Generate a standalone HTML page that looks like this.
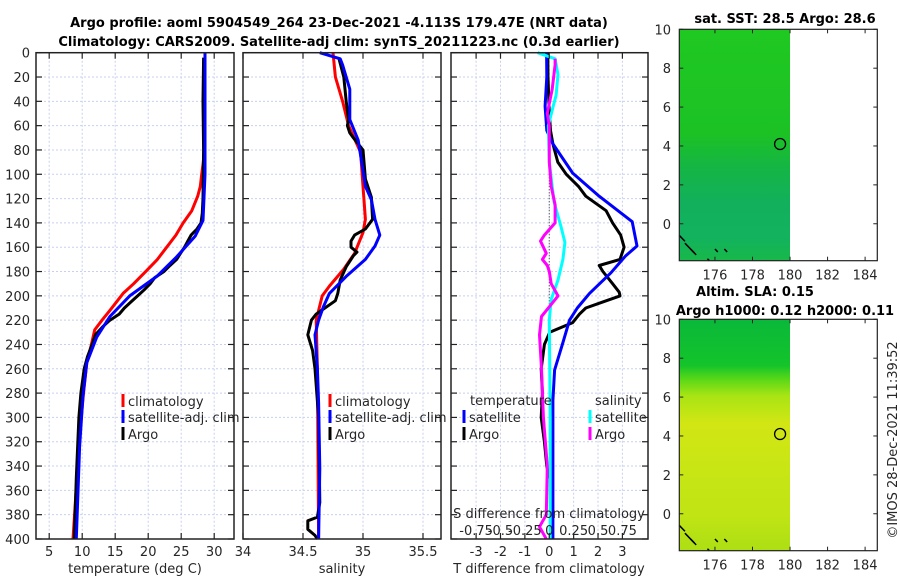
<!DOCTYPE html>
<html><head><meta charset="utf-8">
<style>
html,body{margin:0;padding:0;background:#fff;}
svg{display:block;font-family:"DejaVu Sans","Liberation Sans",sans-serif;}
.tk{font-size:13px;fill:#262626;}
.tt{font-size:13px;font-weight:bold;fill:#000;}
</style></head>
<body>
<svg id="fig" width="900" height="580" viewBox="0 0 900 580" xmlns="http://www.w3.org/2000/svg">
<defs>
<linearGradient id="sstgrad" x1="0" y1="0" x2="0" y2="1">
<stop offset="0" stop-color="#20c822"/><stop offset="0.45" stop-color="#1cc224"/>
<stop offset="0.6" stop-color="#15b545"/><stop offset="0.75" stop-color="#12b05c"/>
<stop offset="0.9" stop-color="#12b25e"/><stop offset="1" stop-color="#18b84a"/></linearGradient>
<linearGradient id="slagrad" x1="0" y1="0" x2="0" y2="1">
<stop offset="0" stop-color="#0ab83a"/><stop offset="0.2" stop-color="#14c42a"/>
<stop offset="0.26" stop-color="#5ad818"/><stop offset="0.33" stop-color="#a8e414"/>
<stop offset="0.45" stop-color="#d2e614"/><stop offset="0.6" stop-color="#cae614"/>
<stop offset="0.85" stop-color="#c0e414"/><stop offset="1" stop-color="#acdf14"/></linearGradient>
</defs>
<text class="tt" x="339" y="27" text-anchor="middle">Argo profile: aoml 5904549_264 23-Dec-2021 -4.113S 179.47E (NRT data)</text>
<text class="tt" x="339" y="46" text-anchor="middle">Climatology: CARS2009. Satellite-adj clim: synTS_20211223.nc (0.3d earlier)</text>
<g id="g1"></g>
<g id="g2"></g>
<g id="g3"></g>
<g id="m1"></g>
<g id="m2"></g>
<text class="tk" transform="translate(897,440) rotate(-90)" text-anchor="middle">©IMOS 28-Dec-2021 11:39:52</text>
</svg>
<script>
// ---- data ----
const tClimDepth=[0,80,90,100,110,118,130,140,150,160,170,179,190,198,205,212,220,228,240,255,280,310,350,400];
const tClim=[28.6,28.5,28.35,28.1,27.9,27.5,26.6,25.3,24.2,22.8,21.4,19.8,17.8,16.2,15.2,14.2,13.0,11.9,11.4,10.7,10.2,9.7,9.2,8.6];
const tSatDepth=[0,100,138,151,168,184,200,217,234,255,283,324,400];
const tSat=[28.6,28.6,28.3,27.1,24.3,21.3,17.2,14.2,12.2,10.7,10.1,9.6,9.1];
const tArgoDepth=[4,40,80,120,132,140,145,150,155,160,165,170,175,180,185,190,195,200,205,210,215,220,225,232,240,250,260,280,300,350,400];
const tArgo=[28.4,28.3,28.4,28.3,28.2,28.0,27.4,26.5,26.0,25.5,24.9,24.3,23.3,22.4,21.0,20.3,19.4,18.4,17.4,16.4,15.6,14.2,13.2,12.0,11.5,10.8,10.3,9.8,9.5,9.1,8.8];
const sClimDepth=[0,20,40,60,82,110,137,148,165,178,192,200,220,260,400];
const sClim=[34.75,34.77,34.83,34.88,34.98,35.0,35.02,35.0,34.93,34.84,34.72,34.66,34.61,34.62,34.63];
const sSatDepth=[0,5,10,30,39,55,72,97,110,121,137,150,159,170,184,198,209,220,232,260,288,342,400];
const sSat=[34.64,34.81,34.83,34.89,34.89,34.89,34.96,35.0,35.02,35.07,35.1,35.14,35.1,35.02,34.86,34.72,34.67,34.63,34.6,34.62,34.63,34.64,34.63];
const sArgoDepth=[5,20,40,55,60,66,70,80,104,119,137,145,150,155,160,164,167,170,176,187,198,204,215,220,232,245,260,300,370,382,385,392,397,400];
const sArgo=[34.8,34.84,34.86,34.88,34.87,34.89,34.92,35.0,35.02,35.07,35.08,35.02,34.93,34.9,34.9,34.95,34.92,34.9,34.86,34.81,34.79,34.77,34.61,34.57,34.54,34.58,34.6,34.63,34.64,34.62,34.54,34.54,34.6,34.62];
const dTSatDepth=[0,20,44,64,75,99,118,139,159,167,181,198,210,220,239,261,286,400];
const dTSat=[-0.11,-0.1,-0.17,-0.1,0.15,0.96,2.05,3.4,3.6,3.14,2.53,1.65,1.15,0.83,0.55,0.22,0.15,0.15];
const dTArgoDepth=[0,20,50,64,75,90,100,110,118,130,140,150,160,170,175,180,190,197,200,205,210,215,222,230,240,260,280,300,320,340,350];
const dTArgo=[-0.06,-0.05,0,0.05,0.15,0.35,0.7,1.2,1.5,2.33,2.6,2.93,3.07,2.9,2.05,2.2,2.6,2.87,2.9,2.2,1.5,1.24,0.96,0.02,-0.2,-0.33,-0.28,-0.33,-0.2,-0.1,0];
const dSSatDepth=[0,5,18,35,44,60,90,123,143,156,170,187,203,220,300,400];
const dSSat=[-0.12,0.06,0.09,0.07,0.04,-0.01,0,0.05,0.12,0.16,0.14,0.09,0.02,0,0.01,0.01];
const dSArgoDepth=[5,10,30,50,60,90,110,125,140,150,155,160,165,170,175,180,190,200,205,217,232,260,300,340,380,390,400];
const dSArgo=[0.06,0.06,0.03,-0.02,0,0,0.02,0.06,0.06,-0.05,-0.09,-0.06,-0.03,-0.07,-0.02,0,0.02,0.09,0.04,-0.08,-0.1,-0.08,-0.06,-0.02,-0.03,-0.1,-0.03];
const depthTicks=[0,20,40,60,80,100,120,140,160,180,200,220,240,260,280,300,320,340,360,380,400];
const tTicks=[5,10,15,20,25,30];
const sTicks=[34,34.5,35,35.5];
const sTickLabels=["34","34.5","35","35.5"];
const dTTicks=[-3,-2,-1,0,1,2,3];
const dSTicks=[-0.75,-0.5,-0.25,0,0.25,0.5,0.75];
const dSTickLabels=["-0.75","-0.5","-0.25","0","0.25","0.5","0.75"];
const latTicks=[0,2,4,6,8,10];
const lonTicks=[176,178,180,182,184];
const argoLon=179.47, argoLat=4.1;

const NS='http://www.w3.org/2000/svg';
function mk(p,tag,at,txt){const e=document.createElementNS(NS,tag);for(const k in at)e.setAttribute(k,at[k]);if(txt!==undefined)e.textContent=txt;p.appendChild(e);return e;}
const Y0=52.7,Y1=539;
const yD=d=>Y0+(d/400)*(Y1-Y0);
function panel(g,x0,x1,xmin,xmax,name){
  const sx=v=>x0+(v-xmin)/(xmax-xmin)*(x1-x0);
  return sx;
}
function frame(g,x0,x1,sx,xt,name){
  depthTicks.forEach(d=>{const l=mk(g,'line',{x1:x0,x2:x1,y1:yD(d),y2:yD(d),stroke:'#c8d0ee','stroke-width':1,'stroke-dasharray':'2,2'});
    });
  xt.forEach(v=>{const l=mk(g,'line',{x1:sx(v),x2:sx(v),y1:Y0,y2:Y1,stroke:'#c8d0ee','stroke-width':1,'stroke-dasharray':'2,2'});
    });
}
function ticks(g,x0,x1,sx,xt,name){
  depthTicks.forEach(d=>{mk(g,'line',{x1:x0,x2:x0+6,y1:yD(d),y2:yD(d),stroke:'#222','stroke-width':1.2});
    mk(g,'line',{x1:x1-6,x2:x1,y1:yD(d),y2:yD(d),stroke:'#222','stroke-width':1.2});});
  xt.forEach(v=>{mk(g,'line',{x1:sx(v),x2:sx(v),y1:Y1,y2:Y1-6,stroke:'#222','stroke-width':1.2});
    mk(g,'line',{x1:sx(v),x2:sx(v),y1:Y0,y2:Y0+6,stroke:'#222','stroke-width':1.2});});
  const r=mk(g,'rect',{x:x0,y:Y0,width:x1-x0,height:Y1-Y0,fill:'none',stroke:'#222','stroke-width':1.5});
  
}
function line(g,xs,ds,sx,col,w,name){
  const pts=xs.map((v,i)=>sx(v).toFixed(1)+','+yD(ds[i]).toFixed(1)).join(' ');
  const p=mk(g,'polyline',{points:pts,fill:'none',stroke:col,'stroke-width':w,'stroke-linejoin':'round'});
  
}
function legItem(g,x,y,col,txt,name){
  mk(g,'rect',{x:x-1.5,y:y-7,width:3,height:13,fill:col});
  const t=mk(g,'text',{x:x+5,y:y+5,class:'tk'},txt);
  
}
// panel 1
const g1=document.getElementById('g1');
const sx1=panel(g1,36,234,3,33);
frame(g1,36,234,sx1,tTicks,'temp');
line(g1,tClim,tClimDepth,sx1,'#ff0000',3,'temp-climatology-line');
line(g1,tArgo,tArgoDepth,sx1,'#000000',3,'temp-argo-line');
line(g1,tSat,tSatDepth,sx1,'#0000ff',3,'temp-satellite-line');
ticks(g1,36,234,sx1,tTicks,'temp');
depthTicks.forEach(d=>{const t=mk(g1,'text',{x:30,y:yD(d)+5,class:'tk','text-anchor':'end'},String(d));
  });
tTicks.forEach(v=>{const t=mk(g1,'text',{x:sx1(v),y:556,class:'tk','text-anchor':'middle'},String(v));
  });
const xt1=mk(g1,'text',{x:135,y:573,class:'tk','text-anchor':'middle'},'temperature (deg C)');

legItem(g1,123,401,'#ff0000','climatology','legend-climatology');
legItem(g1,123,417,'#0000ff','satellite-adj. clim','legend-satellite-adj');
legItem(g1,123,434,'#000000','Argo','legend-argo');
// panel 2
const g2=document.getElementById('g2');
const sx2=panel(g2,243,441,34,35.65);
frame(g2,243,441,sx2,sTicks,'sal');
line(g2,sClim,sClimDepth,sx2,'#ff0000',3,'sal-climatology-line');
line(g2,sArgo,sArgoDepth,sx2,'#000000',3,'sal-argo-line');
line(g2,sSat,sSatDepth,sx2,'#0000ff',3,'sal-satellite-line');
ticks(g2,243,441,sx2,sTicks,'sal');
sTicks.forEach((v,i)=>{const t=mk(g2,'text',{x:sx2(v),y:556,class:'tk','text-anchor':'middle'},sTickLabels[i]);
  });
const xt2=mk(g2,'text',{x:342,y:573,class:'tk','text-anchor':'middle'},'salinity');

legItem(g2,330,401,'#ff0000','climatology','legend-climatology-2');
legItem(g2,330,417,'#0000ff','satellite-adj. clim','legend-satellite-adj-2');
legItem(g2,330,434,'#000000','Argo','legend-argo-2');
// panel 3
const g3=document.getElementById('g3');
const sx3=panel(g3,451,648,-4.03,4.05);
const sxS=v=>sx3(v*4);
frame(g3,451,648,sx3,dTTicks,'diff');
mk(g3,'line',{x1:sx3(0),x2:sx3(0),y1:yD(100),y2:yD(240),stroke:'#333','stroke-width':1,'stroke-dasharray':'1,2'});
line(g3,dTArgo,dTArgoDepth,sx3,'#000000',3,'dT-argo-line');
line(g3,dTSat,dTSatDepth,sx3,'#0000ff',3,'dT-satellite-line');
line(g3,dSSat,dSSatDepth,sxS,'#00ffff',3,'dS-satellite-line');
line(g3,dSArgo,dSArgoDepth,sxS,'#ff00ff',3,'dS-argo-line');
ticks(g3,451,648,sx3,dTTicks,'diff');
dTTicks.forEach(v=>{const t=mk(g3,'text',{x:sx3(v),y:556,class:'tk','text-anchor':'middle'},String(v));
  });
const xt3=mk(g3,'text',{x:549,y:573,class:'tk','text-anchor':'middle'},'T difference from climatology');

const st=mk(g3,'text',{x:549,y:518,class:'tk','text-anchor':'middle'},'S difference from climatology');

dSTicks.forEach((v,i)=>{const t=mk(g3,'text',{x:sxS(v),y:535,class:'tk','text-anchor':'middle'},dSTickLabels[i]);
  });
const lt=mk(g3,'text',{x:470,y:405,class:'tk'},'temperature');
const ls=mk(g3,'text',{x:595,y:405,class:'tk'},'salinity');
legItem(g3,464,417,'#0000ff','satellite','legend-t-satellite');
legItem(g3,464,434,'#000000','Argo','legend-t-argo');
legItem(g3,590,417,'#00ffff','satellite','legend-s-satellite');
legItem(g3,590,434,'#ff00ff','Argo','legend-s-argo');
// maps
function map(id,top,grad,titles,name){
  const g=document.getElementById(id);
  const L=679.3,R=877.3,B=top+231.4,lon0=174.1,lon1=184.65,lat1=10,lat0=-1.9;
  const mx=v=>L+(v-lon0)/(lon1-lon0)*(R-L);
  const my=v=>top+(lat1-v)/(lat1-lat0)*(B-top);
  const r=mk(g,'rect',{x:L,y:top,width:mx(180)-L,height:B-top,fill:'url(#'+grad+')'});
  
  [[0,-0.6,0.3],[0.3,-1.0,0.5],[0.6,-1.3,0.3],[1.5,-1.8,0.1],[1.9,-1.3,0.15],[2.4,-1.3,0.15]].forEach(c=>{
    mk(g,'line',{x1:mx(lon0+c[0]),y1:my(c[1]),x2:mx(lon0+c[0]+c[2]),y2:my(c[1]-c[2]),stroke:'#000','stroke-width':1.5});});
  const c=mk(g,'circle',{cx:mx(argoLon),cy:my(argoLat),r:5.5,fill:'none',stroke:'#000','stroke-width':1.3});
  
  latTicks.forEach(v=>{mk(g,'line',{x1:L,x2:L+4,y1:my(v),y2:my(v),stroke:'#222'});mk(g,'line',{x1:R-4,x2:R,y1:my(v),y2:my(v),stroke:'#222'});
    const t=mk(g,'text',{x:671,y:my(v)+5,class:'tk','text-anchor':'end'},String(v));
    });
  lonTicks.forEach(v=>{mk(g,'line',{x1:mx(v),x2:mx(v),y1:B,y2:B-4,stroke:'#222'});mk(g,'line',{x1:mx(v),x2:mx(v),y1:top,y2:top+4,stroke:'#222'});
    const t=mk(g,'text',{x:mx(v),y:B+19,class:'tk','text-anchor':'middle'},String(v));
    });
  mk(g,'rect',{x:L,y:top,width:R-L,height:B-top,fill:'none',stroke:'#222','stroke-width':1.2});
  titles.forEach((s,i)=>{const t=mk(g,'text',{x:s[1],y:s[2],class:'tt','text-anchor':'middle'},s[0]);
    });
}
map('m1',29.3,'sstgrad',[['sat. SST: 28.5 Argo: 28.6',785,23]],'sst-map');
map('m2',319.3,'slagrad',[['Altim. SLA: 0.15',755,296],['Argo h1000: 0.12 h2000: 0.11',785,315]],'sla-map');
</script>
</body></html>
